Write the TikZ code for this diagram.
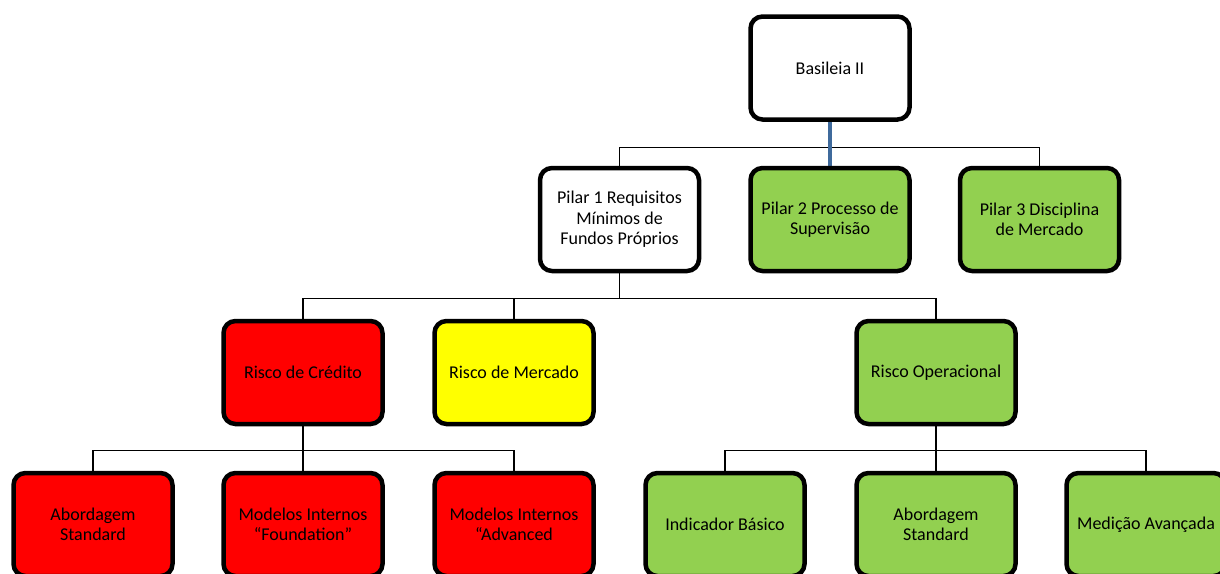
\documentclass[tikz,border=0pt]{standalone}
\usepackage{fontspec}
\setmainfont{Carlito}
\usetikzlibrary{backgrounds}
\definecolor{pilargreen}{HTML}{92D050}
\definecolor{riskred}{HTML}{FF0000}
\definecolor{riskyellow}{HTML}{FFFF00}
\definecolor{linkblue}{HTML}{3F6A9C}
\begin{document}
\begin{tikzpicture}[
    x=1pt, y=-1pt,
    every node/.style={font=\fontsize{18}{20.5}\selectfont, align=center},
    box/.style={draw=black, line width=4.5pt, rounded corners=12pt,
        minimum width=159pt, minimum height=103pt, inner sep=2pt},
    plainbox/.style={box, fill=white},
    greenbox/.style={box, fill=pilargreen},
    redbox/.style={box, fill=riskred},
    yellowbox/.style={box, fill=riskyellow},
    link/.style={draw=black, line width=1.4pt},
    bluelink/.style={draw=linkblue, line width=3.5pt}
]
\useasboundingbox (0,0) rectangle (1220,573);
\clip (0,0) rectangle (1220,573);

% Top
\node[plainbox] (bas) at (830,68) {Basileia II};

% Pillars
\node[plainbox] (p1) at (619.5,219.5) {Pilar 1 Requisitos\\Mínimos de\\Fundos Próprios};
\node[greenbox] (p2) at (830,219.5) {Pilar 2 Processo de\\Supervisão};
\node[greenbox] (p3) at (1039.5,219.5) {Pilar 3 Disciplina\\de Mercado};

% Risks
\node[redbox]    (rc) at (303,372.5) {Risco de Crédito};
\node[yellowbox] (rm) at (514,372.5) {Risco de Mercado};
\node[greenbox]  (ro) at (936,372.5) {Risco Operacional};

% Approaches
\node[redbox] (rc1) at (93,524.5) {Abordagem\\Standard};
\node[redbox] (rc2) at (303,524.5) {Modelos Internos\\“Foundation”};
\node[redbox] (rc3) at (514,524.5) {Modelos Internos\\“Advanced};
\node[greenbox] (ro1) at (725,524.5) {Indicador Básico};
\node[greenbox] (ro2) at (936,524.5) {Abordagem\\Standard};
\node[greenbox] (ro3) at (1146,524.5) {Medição Avançada};

% Connectors
\begin{scope}[on background layer]
\foreach \child in {p1,p2,p3}
    \draw[link] (bas.south) -- ++(0,25.5) -| (\child.north);
\foreach \child in {rc,rm,ro}
    \draw[link] (p1.south) -- ++(0,25) -| (\child.north);
\foreach \child in {rc1,rc2,rc3}
    \draw[link] (rc.south) -- ++(0,24) -| (\child.north);
\foreach \child in {ro1,ro2,ro3}
    \draw[link] (ro.south) -- ++(0,24) -| (\child.north);
\draw[bluelink] (bas.south) -- (p2.north);
\end{scope}

\end{tikzpicture}
\end{document}
